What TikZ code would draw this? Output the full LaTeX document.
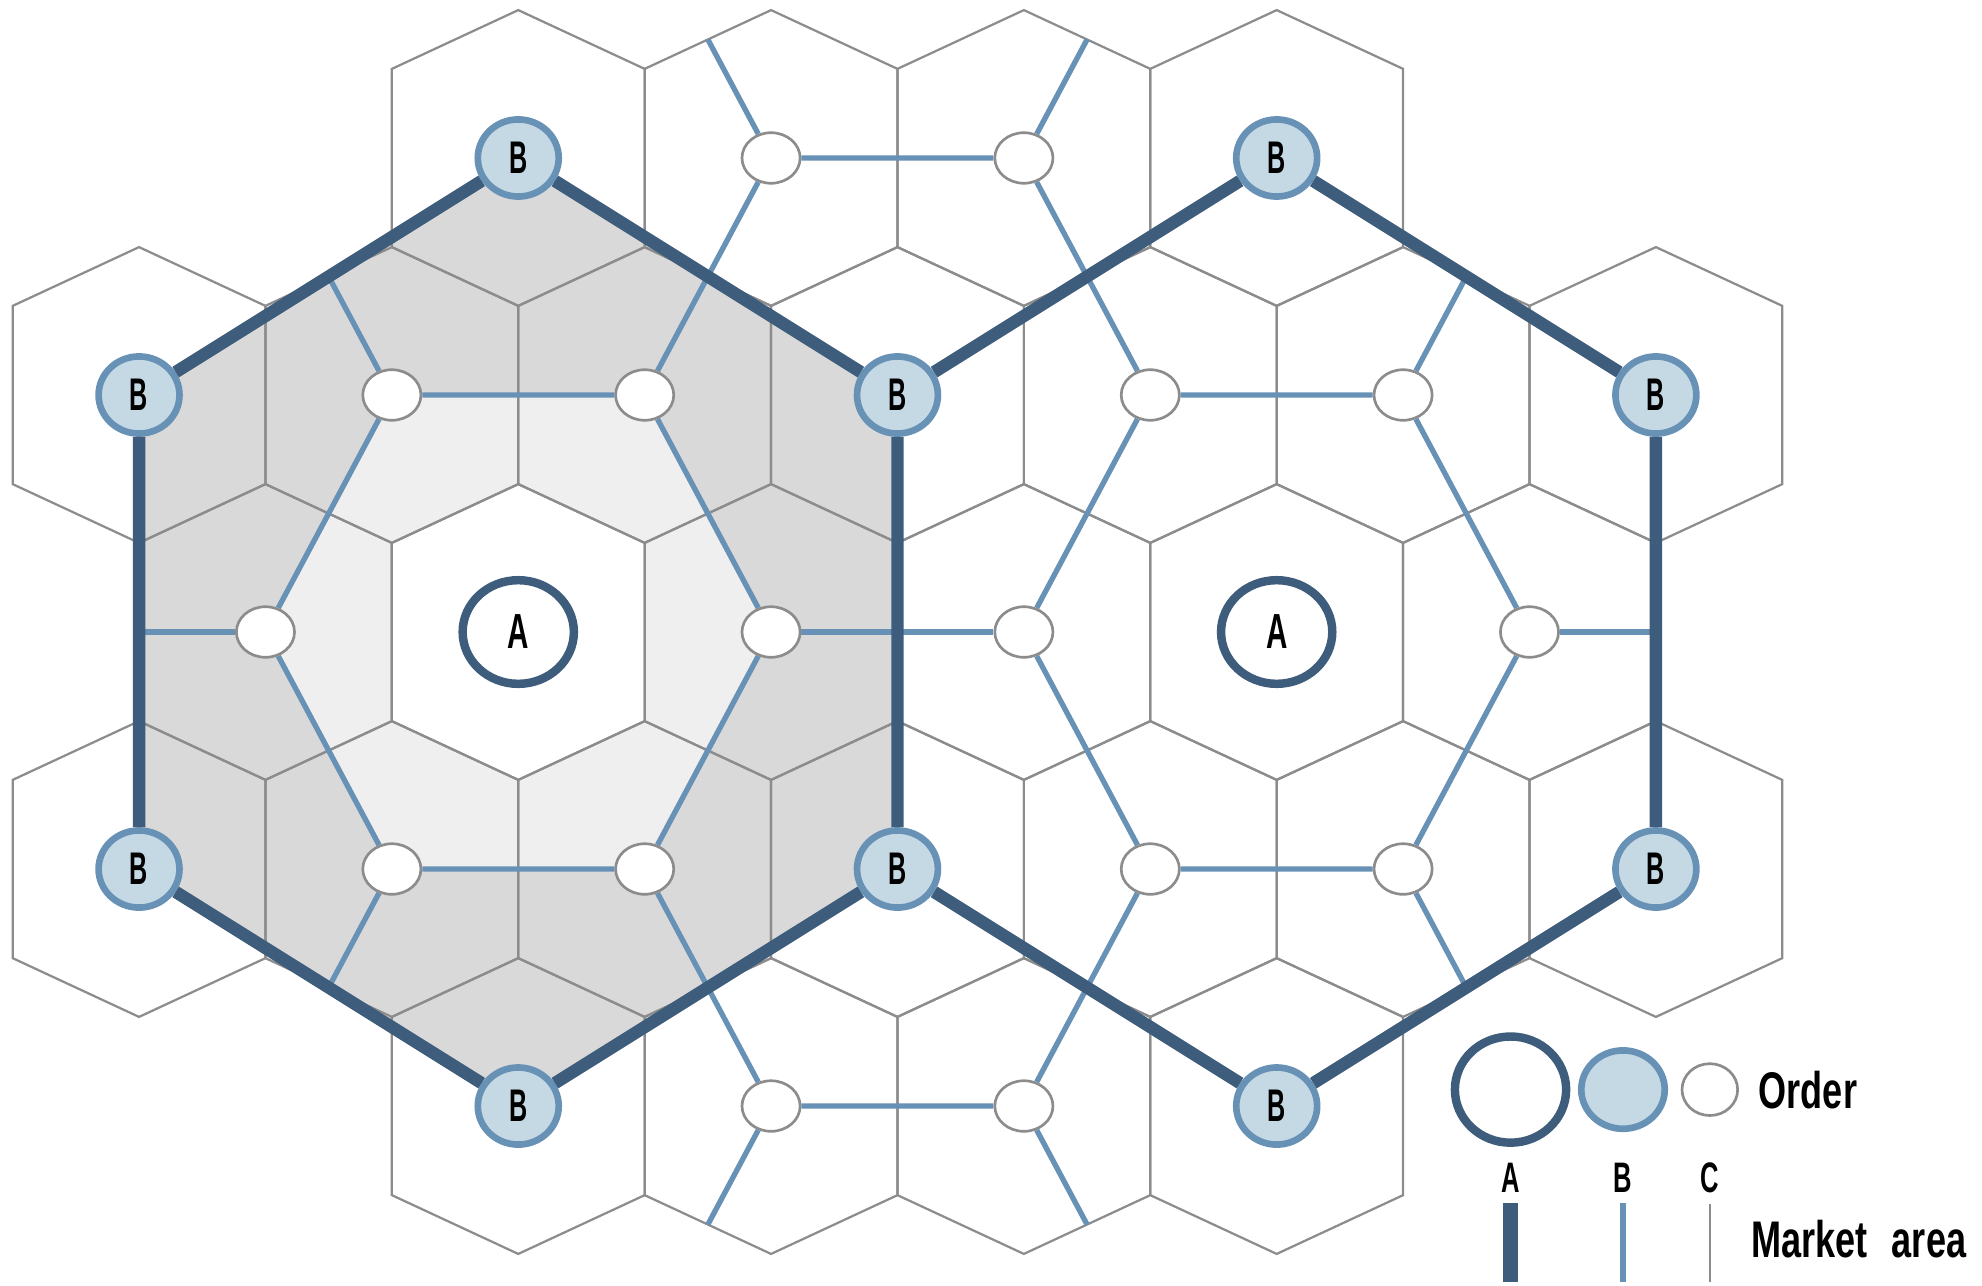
\documentclass[tikz,border=0pt]{standalone}
\usepackage{fontspec}
\setmainfont{Liberation Sans}
\usepackage{graphicx}
\usetikzlibrary{positioning, shapes.geometric, backgrounds}
\definecolor{BlueA}{HTML}{3E5C7C}
\definecolor{BlueB}{HTML}{6891B6}
\definecolor{BlueF}{HTML}{C5D9E5}
\definecolor{GrayA}{HTML}{8C8C8C}
\definecolor{GrayB}{HTML}{D9D9D9}
\definecolor{GrayC}{HTML}{EFEFEF}
\newcommand{\cnd}[2][0.55]{\scalebox{#1}[1]{#2}}
\tikzset{
  cell/.style={draw=GrayA, line width=0.5pt},
  mktA/.style={draw=BlueA, line width=2.8pt},
  mktB/.style={draw=BlueB, line width=1.2pt},
  placeA/.style={ellipse, draw=BlueA, fill=white, line width=1.9pt, inner sep=0pt, minimum width=0.88cm, minimum height=0.82cm, font=\fontsize{11.1pt}{11.1pt}\selectfont\bfseries},
  placeB/.style={ellipse, draw=BlueB, fill=BlueF, line width=1.5pt, inner sep=0pt, minimum width=0.64cm, minimum height=0.61cm, font=\fontsize{10.3pt}{10.3pt}\selectfont\bfseries},
  placeC/.style={ellipse, draw=GrayA, fill=white, line width=0.6pt, inner sep=0pt, minimum width=0.46cm, minimum height=0.40cm},
  lbl/.style={inner sep=0pt, font=\fontsize{9.6pt}{9.6pt}\selectfont\bfseries},
  txt/.style={inner sep=0pt, font=\fontsize{11.6pt}{11.6pt}\selectfont\bfseries}
}

\begin{document}
\begin{tikzpicture}
  \useasboundingbox (0,0) rectangle (15.68,-10.17);

  \node[placeA] (A1) at (4.1,-5) {\cnd[0.6]{A}};
  \node[placeA] (A2) at (10.1,-5) {\cnd[0.6]{A}};

  \node[placeB] (Bt1) at (4.1,-1.25) {\cnd{B}};
  \node[placeB] (Bl1) at (1.1,-3.125) {\cnd{B}};
  \node[placeB] (Bm1) at (7.1,-3.125) {\cnd{B}};
  \node[placeB] (Bl2) at (1.1,-6.875) {\cnd{B}};
  \node[placeB] (Bm2) at (7.1,-6.875) {\cnd{B}};
  \node[placeB] (Bb1) at (4.1,-8.75) {\cnd{B}};
  \node[placeB] (Bt2) at (10.1,-1.25) {\cnd{B}};
  \node[placeB] (Br1) at (13.1,-3.125) {\cnd{B}};
  \node[placeB] (Br2) at (13.1,-6.875) {\cnd{B}};
  \node[placeB] (Bb2) at (10.1,-8.75) {\cnd{B}};

  \node[placeC] (cl1) at (3.1,-3.125) {};
  \node[placeC] (cl2) at (5.1,-3.125) {};
  \node[placeC] (cl3) at (6.1,-5) {};
  \node[placeC] (cl4) at (5.1,-6.875) {};
  \node[placeC] (cl5) at (3.1,-6.875) {};
  \node[placeC] (cl6) at (2.1,-5) {};
  \node[placeC] (cr1) at (9.1,-3.125) {};
  \node[placeC] (cr2) at (11.1,-3.125) {};
  \node[placeC] (cr3) at (12.1,-5) {};
  \node[placeC] (cr4) at (11.1,-6.875) {};
  \node[placeC] (cr5) at (9.1,-6.875) {};
  \node[placeC] (cr6) at (8.1,-5) {};
  \node[placeC] (ct1) at (6.1,-1.25) {};
  \node[placeC] (ct2) at (8.1,-1.25) {};
  \node[placeC] (cb1) at (6.1,-8.75) {};
  \node[placeC] (cb2) at (8.1,-8.75) {};

  \coordinate (el1) at (2.6,-2.1875);
  \coordinate (el6) at (1.1,-5);
  \coordinate (el5) at (2.6,-7.8125);
  \coordinate (et1) at (5.6,-0.3125);
  \coordinate (et2) at (8.6,-0.3125);
  \coordinate (eb1) at (5.6,-9.6875);
  \coordinate (eb2) at (8.6,-9.6875);
  \coordinate (er2) at (11.6,-2.1875);
  \coordinate (er3) at (13.1,-5);
  \coordinate (er4) at (11.6,-7.8125);

  \begin{scope}[on background layer]
    \fill[GrayB] (Bt1.center) -- (Bm1.center) -- (Bm2.center) -- (Bb1.center) -- (Bl2.center) -- (Bl1.center) -- cycle;
    \fill[GrayC] (cl1.center) -- (cl2.center) -- (cl3.center) -- (cl4.center) -- (cl5.center) -- (cl6.center) -- cycle;
    \fill[white] (4.1,-3.83) -- (5.1,-4.295) -- (5.1,-5.705) -- (4.1,-6.17) -- (3.1,-5.705) -- (3.1,-4.295) -- cycle;
    \foreach \y/\xs in {-1.25/{4.1,6.1,8.1,10.1}, -3.125/{1.1,3.1,5.1,7.1,9.1,11.1,13.1}, -5/{2.1,4.1,6.1,8.1,10.1,12.1}, -6.875/{1.1,3.1,5.1,7.1,9.1,11.1,13.1}, -8.75/{4.1,6.1,8.1,10.1}}
      \foreach \x in \xs
        \draw[cell] (\x,\y+1.17) -- (\x+1,\y+0.705) -- (\x+1,\y-0.705) -- (\x,\y-1.17) -- (\x-1,\y-0.705) -- (\x-1,\y+0.705) -- cycle;
  \end{scope}

  \draw[mktB] (cl1) -- (cl2) -- (cl3) -- (cl4) -- (cl5) -- (cl6) -- (cl1);
  \draw[mktB] (cr1) -- (cr2) -- (cr3) -- (cr4) -- (cr5) -- (cr6) -- (cr1);
  \draw[mktB] (cl3) -- (cr6);
  \draw[mktB] (cl2) -- (ct1) -- (ct2) -- (cr1);
  \draw[mktB] (cl4) -- (cb1) -- (cb2) -- (cr5);
  \draw[mktB] (cl1) -- (el1);
  \draw[mktB] (cl6) -- (el6);
  \draw[mktB] (cl5) -- (el5);
  \draw[mktB] (ct1) -- (et1);
  \draw[mktB] (ct2) -- (et2);
  \draw[mktB] (cb1) -- (eb1);
  \draw[mktB] (cb2) -- (eb2);
  \draw[mktB] (cr2) -- (er2);
  \draw[mktB] (cr3) -- (er3);
  \draw[mktB] (cr4) -- (er4);

  \draw[mktA] (Bt1) -- (Bm1) -- (Bm2) -- (Bb1) -- (Bl2) -- (Bl1) -- (Bt1);
  \draw[mktA] (Bm1) -- (Bt2) -- (Br1) -- (Br2) -- (Bb2) -- (Bm2);

  \node[placeA, minimum height=0.84cm] (lgA) at (11.95,-8.62) {};
  \node[placeB, minimum width=0.66cm, minimum height=0.62cm, right=0.06cm of lgA] (lgB) {};
  \node[placeC, minimum width=0.44cm, minimum height=0.41cm, right=0.1cm of lgB] (lgC) {};
  \node[txt, right=0.15cm of lgC] (order) {\cnd[0.7]{Order}};

  \node[lbl, below=0.12cm of lgA] (labA) {\cnd[0.6]{A}};
  \node[lbl] (labB) at (lgB |- labA) {\cnd[0.6]{B}};
  \node[lbl] (labC) at (lgC |- labA) {\cnd[0.6]{C}};

  \coordinate (barAt) at ([yshift=-0.08cm]labA.south);
  \coordinate (barAb) at ([yshift=-0.7cm]labA.south);
  \coordinate (barBt) at ([yshift=-0.08cm]labB.south);
  \coordinate (barBb) at ([yshift=-0.7cm]labB.south);
  \coordinate (barCt) at ([yshift=-0.08cm]labC.south);
  \coordinate (barCm) at ([yshift=-0.36cm]labC.south);
  \coordinate (barCb) at ([yshift=-0.7cm]labC.south);
  \draw[mktA, line width=3.2pt] (barAt) -- (barAb);
  \draw[mktB, line width=1.4pt] (barBt) -- (barBb);
  \draw[cell] (barCt) -- (barCb);
  \node[txt, right=0.32cm of barCm] (area) {\cnd[0.7]{Market\hspace{0.68em}area}};
\end{tikzpicture}
\end{document}
